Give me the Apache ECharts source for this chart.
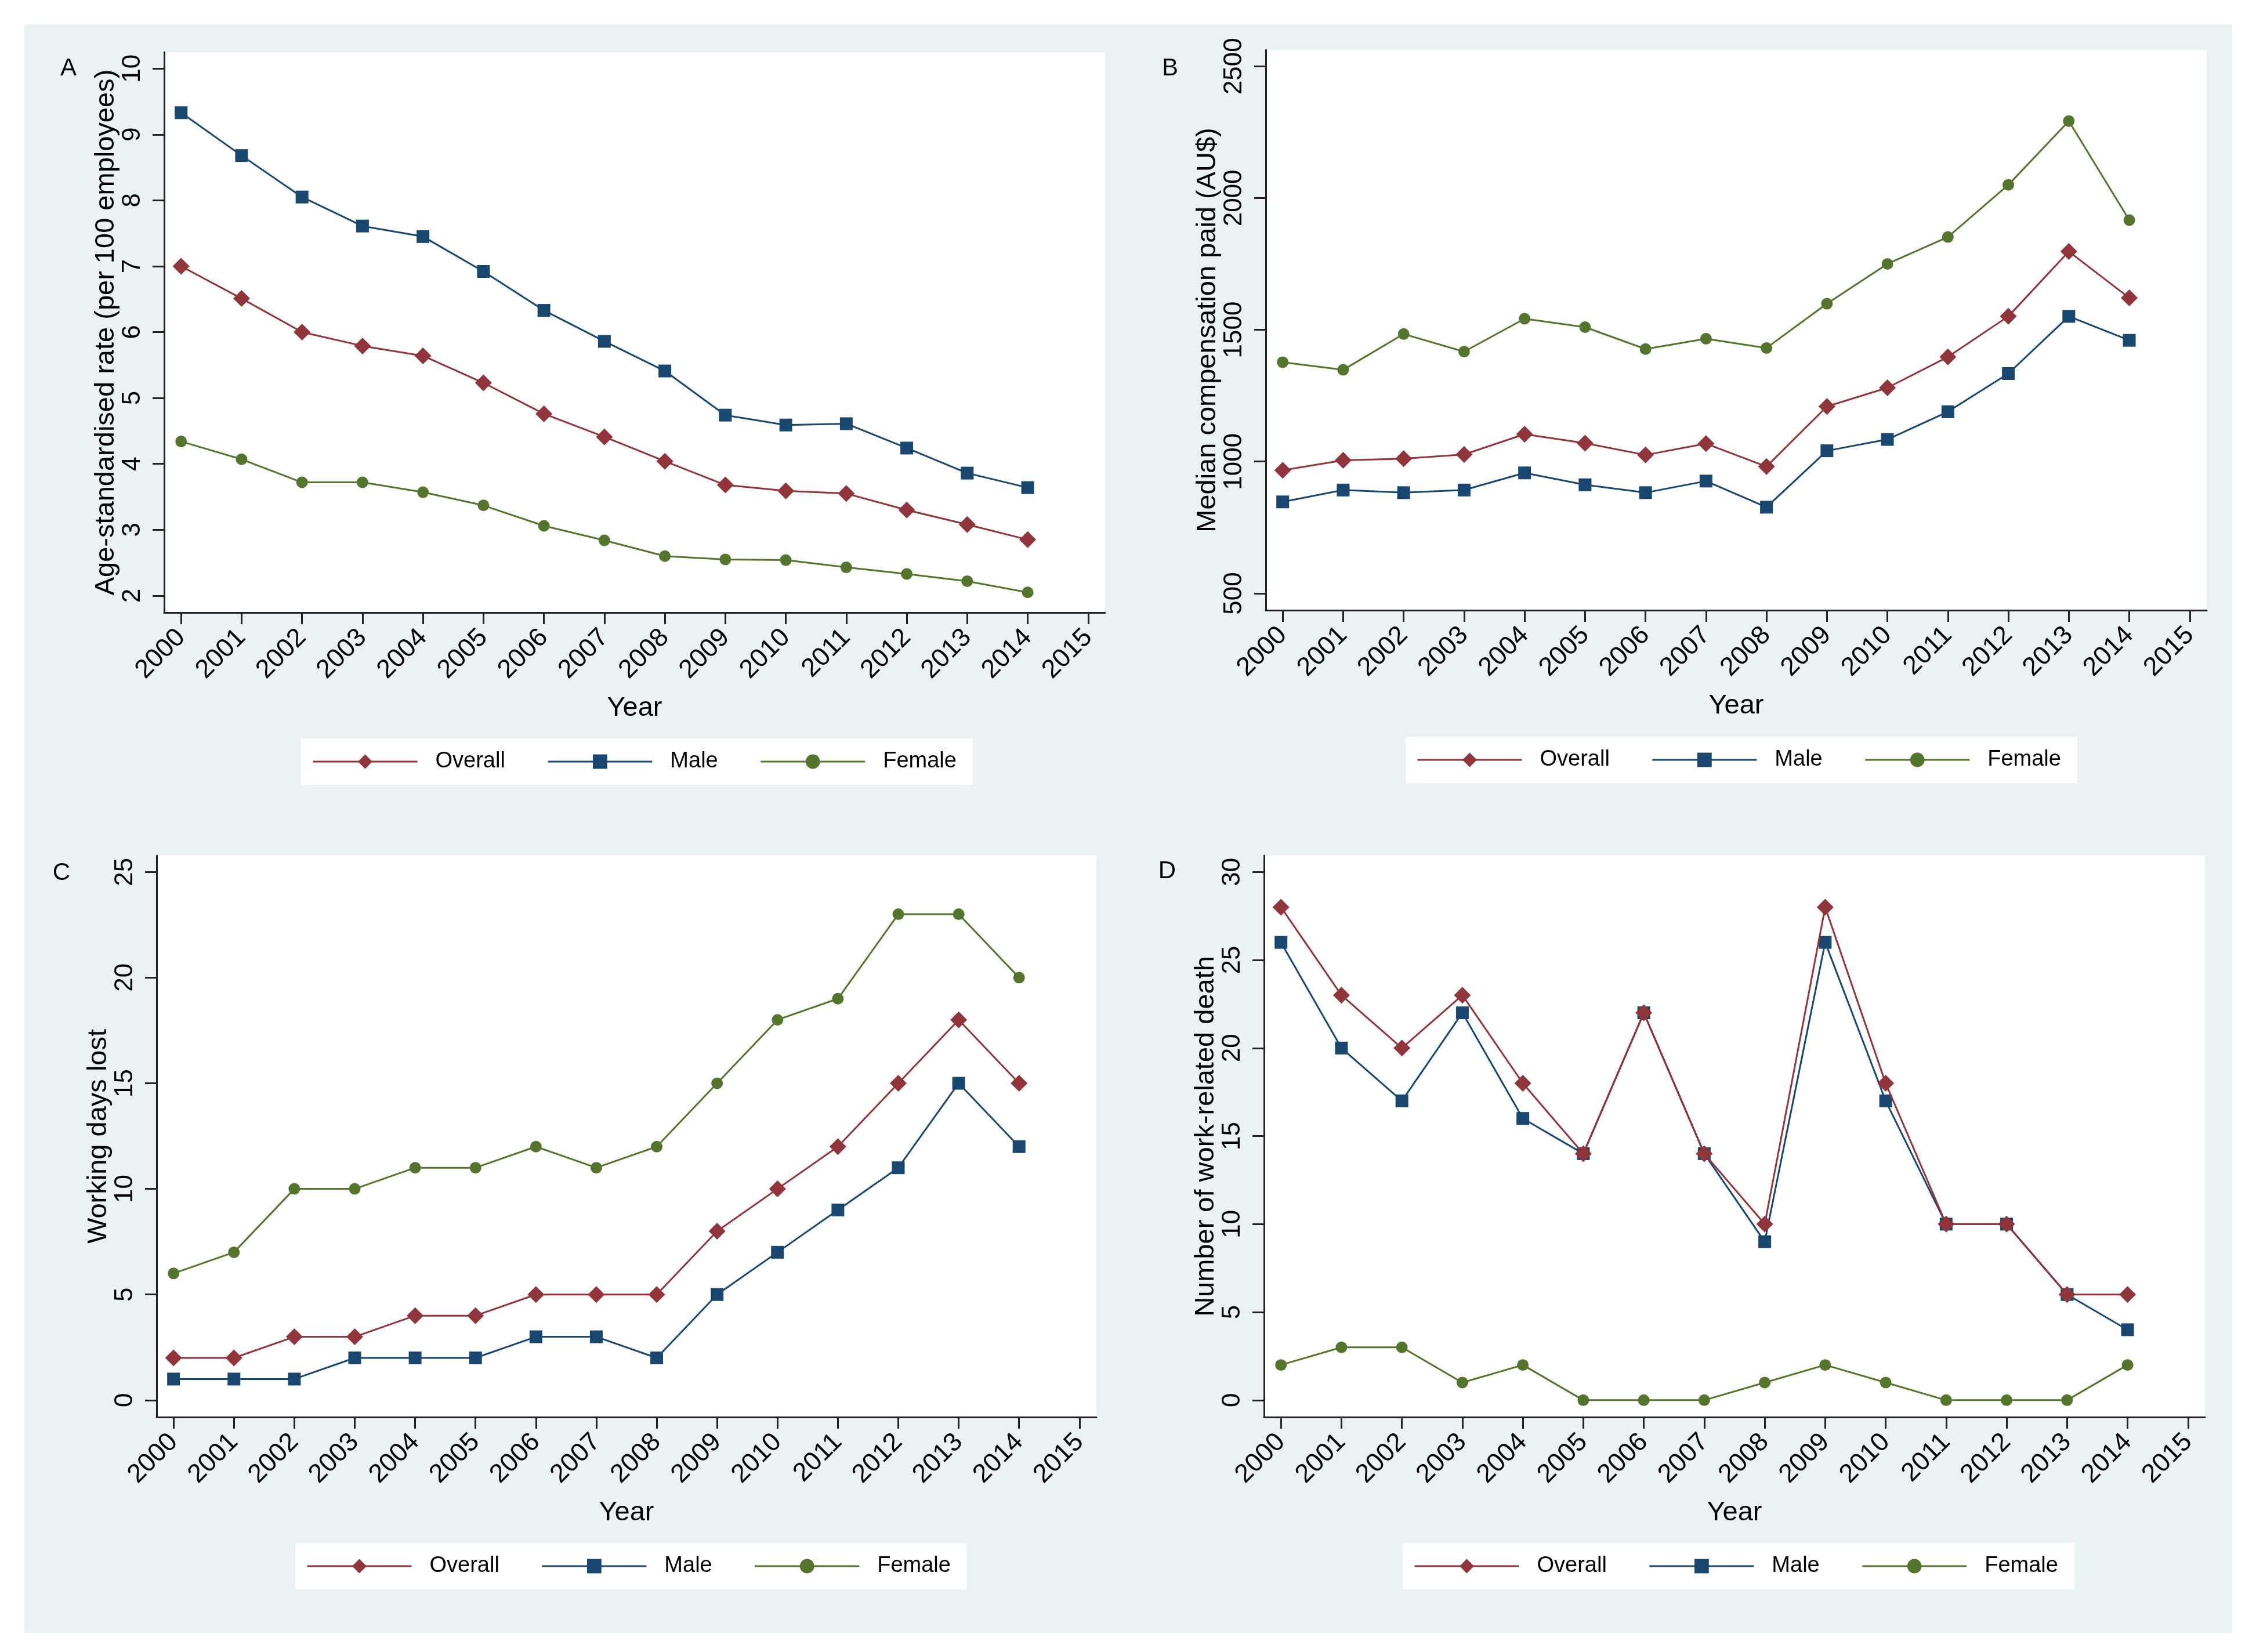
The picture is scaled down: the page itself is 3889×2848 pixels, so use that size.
<!DOCTYPE html>
<html>
<head>
<meta charset="utf-8">
<title>Work-related injury trends 2000-2014</title>
<script src="https://cdn.jsdelivr.net/npm/echarts@6.0.0/dist/echarts.min.js"></script>
<style>
  html, body { margin: 0; padding: 0; background: #fff; }
  #main { width: 3889px; height: 2848px; }
</style>
</head>
<body>
<div id="main"></div>
<script>
// ---- data ----
var years = [2000, 2001, 2002, 2003, 2004, 2005, 2006, 2007, 2008, 2009, 2010, 2011, 2012, 2013, 2014];
var yearTicks = [2000, 2001, 2002, 2003, 2004, 2005, 2006, 2007, 2008, 2009, 2010, 2011, 2012, 2013, 2014, 2015];
var seriesNames = ['Overall', 'Male', 'Female'];

// A: age-standardised rate
var rateOverall = [7.0, 6.51, 6.0, 5.79, 5.64, 5.23, 4.76, 4.41, 4.04, 3.68, 3.59, 3.55, 3.3, 3.08, 2.85];
var rateMale = [9.33, 8.68, 8.05, 7.61, 7.45, 6.92, 6.33, 5.86, 5.41, 4.74, 4.59, 4.61, 4.24, 3.86, 3.64];
var rateFemale = [4.34, 4.07, 3.72, 3.72, 3.57, 3.37, 3.06, 2.84, 2.6, 2.55, 2.54, 2.43, 2.33, 2.22, 2.05];
var rateTicks = [2, 3, 4, 5, 6, 7, 8, 9, 10];

// B: median compensation paid
var compOverall = [967, 1005, 1011, 1027, 1104, 1070, 1025, 1068, 981, 1209, 1280, 1397, 1551, 1797, 1621];
var compMale = [847, 892, 882, 892, 957, 912, 882, 926, 827, 1041, 1084, 1189, 1334, 1551, 1460];
var compFemale = [1377, 1348, 1484, 1417, 1542, 1510, 1427, 1466, 1431, 1599, 1750, 1852, 2050, 2292, 1916];
var compTicks = [500, 1000, 1500, 2000, 2500];

// C: working days lost
var daysOverall = [2, 2, 3, 3, 4, 4, 5, 5, 5, 8, 10, 12, 15, 18, 15];
var daysMale = [1, 1, 1, 2, 2, 2, 3, 3, 2, 5, 7, 9, 11, 15, 12];
var daysFemale = [6, 7, 10, 10, 11, 11, 12, 11, 12, 15, 18, 19, 23, 23, 20];
var daysTicks = [0, 5, 10, 15, 20, 25];

// D: number of work-related deaths
var deathOverall = [28, 23, 20, 23, 18, 14, 22, 14, 10, 28, 18, 10, 10, 6, 6];
var deathMale = [26, 20, 17, 22, 16, 14, 22, 14, 9, 26, 17, 10, 10, 6, 4];
var deathFemale = [2, 3, 3, 1, 2, 0, 0, 0, 1, 2, 1, 0, 0, 0, 2];
var deathTicks = [0, 5, 10, 15, 20, 25, 30];

// ---- layout / style ----
var FONT = '"Liberation Sans", Arial, Helvetica, sans-serif';
var colors = ['#90353b', '#1a476f', '#55752f'];
var symbols = ['diamond', 'rect', 'circle'];
var symbolSizes = [29, 22, 20];
var zOrder = [4, 3, 2]; // overall drawn over male where they coincide

var panels = [
  { letter: 'A', ticks: rateTicks, title: 'Age-standardised rate (per 100 employees)',
    values: [rateOverall, rateMale, rateFemale],
    grid: { left: 283, top: 90, width: 1622, height: 966 },
    legend: { left: 519, top: 1273 }, letterPos: [118, 118] },
  { letter: 'B', ticks: compTicks, title: 'Median compensation paid (AU$)',
    values: [compOverall, compMale, compFemale],
    grid: { left: 2182, top: 86, width: 1622, height: 966 },
    legend: { left: 2423, top: 1270 }, letterPos: [2017, 118] },
  { letter: 'C', ticks: daysTicks, title: 'Working days lost',
    values: [daysOverall, daysMale, daysFemale],
    grid: { left: 270, top: 1475, width: 1620, height: 968 },
    legend: { left: 509, top: 2660 }, letterPos: [106, 1505] },
  { letter: 'D', ticks: deathTicks, title: 'Number of work-related death',
    values: [deathOverall, deathMale, deathFemale],
    grid: { left: 2179, top: 1475, width: 1622, height: 968 },
    legend: { left: 2418, top: 2660 }, letterPos: [2012, 1502] }
];

var axisLineStyle = { color: '#222', width: 3 };

var grids = [], xAxes = [], yAxes = [], series = [], legends = [], graphics = [];

graphics.push({
  type: 'rect', z: -10, silent: true,
  shape: { x: 42, y: 42, width: 3806, height: 2773 },
  style: { fill: '#eaf2f3' }
});

panels.forEach(function (p, i) {
  grids.push({
    left: p.grid.left, top: p.grid.top, width: p.grid.width, height: p.grid.height,
    show: true, backgroundColor: '#ffffff', borderWidth: 0, containLabel: false
  });

  xAxes.push({
    type: 'value', gridIndex: i,
    min: 1999.72, max: 2015.28,
    name: 'Year', nameLocation: 'middle', nameGap: 142,
    nameTextStyle: { fontFamily: FONT, fontSize: 47, color: '#000' },
    axisLine: { show: true, onZero: false, lineStyle: axisLineStyle },
    axisTick: { show: true, length: 20, lineStyle: axisLineStyle, customValues: yearTicks },
    axisLabel: {
      show: true, rotate: 45, margin: 36, customValues: yearTicks,
      fontFamily: FONT, fontSize: 45, color: '#000',
      formatter: function (v) { return String(v); }
    },
    splitLine: { show: false }
  });

  var lo = p.ticks[0], hi = p.ticks[p.ticks.length - 1], span = hi - lo;
  yAxes.push({
    type: 'value', gridIndex: i,
    min: lo - 0.032 * span, max: hi + 0.031 * span,
    name: p.title, nameLocation: 'middle', nameGap: 76, nameRotate: 90,
    nameTextStyle: { fontFamily: FONT, fontSize: 47, color: '#000' },
    axisLine: { show: true, onZero: false, lineStyle: axisLineStyle },
    axisTick: { show: true, length: 20, lineStyle: axisLineStyle, customValues: p.ticks },
    axisLabel: {
      show: true, rotate: 90, margin: 32, customValues: p.ticks,
      fontFamily: FONT, fontSize: 44, color: '#000',
      formatter: function (v) { return String(v); }
    },
    splitLine: { show: false }
  });

  seriesNames.forEach(function (name, k) {
    series.push({
      name: name, type: 'line', xAxisIndex: i, yAxisIndex: i,
      data: years.map(function (y, j) { return [y, p.values[k][j]]; }),
      symbol: symbols[k], symbolSize: symbolSizes[k], showSymbol: true,
      itemStyle: { color: colors[k] },
      lineStyle: { color: colors[k], width: 3 },
      emphasis: { disabled: true },
      z: zOrder[k]
    });
  });

  legends.push({
    left: p.legend.left, top: p.legend.top, orient: 'horizontal',
    data: seriesNames, selectedMode: false,
    backgroundColor: '#ffffff', borderWidth: 0,
    padding: [21, 28, 21, 19],
    itemWidth: 180, itemHeight: 31, itemGap: 72,
    lineStyle: { width: 3 },
    textStyle: { fontFamily: FONT, fontSize: 38, color: '#000', padding: [0, 0, 0, 26] }
  });

  graphics.push({
    type: 'text', x: p.letterPos[0], y: p.letterPos[1], silent: true,
    style: { text: p.letter, fontFamily: FONT, fontSize: 42, fill: '#000',
             textAlign: 'center', textVerticalAlign: 'middle' }
  });
});

var chart = echarts.init(document.getElementById('main'));
var option = {
  backgroundColor: '#ffffff',
  animation: false,
  grid: grids,
  xAxis: xAxes,
  yAxis: yAxes,
  legend: legends,
  graphic: graphics,
  series: series
};
chart.setOption(option);
</script>
</body>
</html>
